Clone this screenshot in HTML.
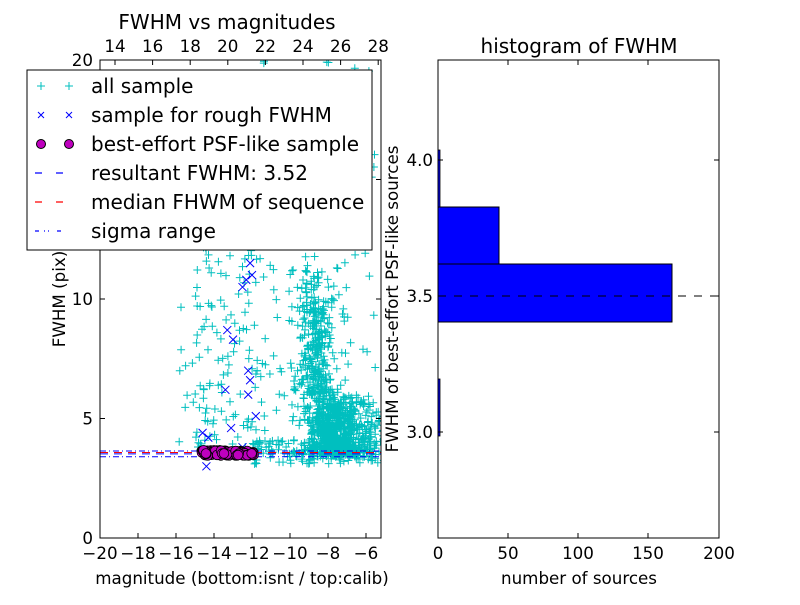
<!DOCTYPE html>
<html><head><meta charset="utf-8"><style>
body{margin:0;background:#fff;}
svg text{font-family:"DejaVu Sans","Liberation Sans",sans-serif;fill:#000;}
</style></head><body>
<svg id="s" width="800" height="600" xmlns="http://www.w3.org/2000/svg">
<rect width="800" height="600" fill="#fff"/>
<defs><clipPath id="c1"><rect x="100" y="60" width="281" height="478"/></clipPath></defs>
<g id="pts" clip-path="url(#c1)"></g>
<rect x="100" y="60" width="281" height="478" fill="none" stroke="#000" stroke-width="1"/>
<g id="lt" stroke="#000" stroke-width="1"></g>
<g font-size="16.7" text-anchor="middle" id="ltx"></g>
<text x="242" y="584" font-size="16.7" text-anchor="middle">magnitude (bottom:isnt / top:calib)</text>
<text x="227" y="29" font-size="20" text-anchor="middle">FWHM vs magnitudes</text>
<text transform="translate(65,299) rotate(-90)" font-size="16.7" text-anchor="middle">FWHM (pix)</text>
<rect x="27" y="70" width="345" height="180" fill="#fff" stroke="#000" stroke-width="1"/>
<g font-size="20">
<text x="91" y="93">all sample</text>
<text x="91" y="122">sample for rough FWHM</text>
<text x="91" y="151">best-effort PSF-like sample</text>
<text x="91" y="180">resultant FWHM: 3.52</text>
<text x="91" y="209">median FHWM of sequence</text>
<text x="91" y="238">sigma range</text>
</g>
<g stroke="#00bfbf" stroke-width="1"><path d="M37 86h8M41 82v8M65 86h8M69 82v8"/></g>
<g stroke="#0000ff" stroke-width="1"><path d="M38 112l6 6M44 112l-6 6M66 112l6 6M72 112l-6 6"/></g>
<circle cx="41" cy="144" r="4.5" fill="#bf00bf" stroke="#000"/><circle cx="69" cy="144" r="4.5" fill="#bf00bf" stroke="#000"/>
<path d="M35 173h7M56 173h7" stroke="#0000ff" stroke-width="1.2"/>
<path d="M35 202h7M56 202h7" stroke="#ff0000" stroke-width="1.2"/>
<path d="M35 231h4M44 231h1M48 231h1M57 231h4" stroke="#0000ff" stroke-width="1.2"/>
<rect x="438" y="264" width="234" height="58" fill="#0000ff" stroke="#000"/>
<rect x="438" y="207" width="61" height="57" fill="#0000ff" stroke="#000"/>
<rect x="438" y="150" width="2" height="57" fill="#0000ff" stroke="#000" stroke-width="0.8"/>
<rect x="438" y="379" width="2" height="57" fill="#0000ff" stroke="#000" stroke-width="0.8"/>
<path d="M438 296H719" stroke="#000" stroke-dasharray="8,8"/>
<rect x="438" y="60" width="281" height="478" fill="none" stroke="#000"/>
<g stroke="#000" id="rt"></g>
<g font-size="16.7">
<text x="438" y="559" text-anchor="middle">0</text>
<text x="508" y="559" text-anchor="middle">50</text>
<text x="578" y="559" text-anchor="middle">100</text>
<text x="648" y="559" text-anchor="middle">150</text>
<text x="719" y="559" text-anchor="middle">200</text>
<text x="433" y="166" text-anchor="end">4.0</text>
<text x="433" y="302" text-anchor="end">3.5</text>
<text x="433" y="438" text-anchor="end">3.0</text>
</g>
<text x="579" y="584" font-size="16.7" text-anchor="middle">number of sources</text>
<text x="579" y="53" font-size="20" text-anchor="middle">histogram of FWHM</text>
<text transform="translate(398,299) rotate(-90)" font-size="16.7" text-anchor="middle">FWHM of best-effort PSF-like sources</text>
</svg>
<script>
var NS="http://www.w3.org/2000/svg";
function el(p,t,a,txt){var e=document.createElementNS(NS,t);for(var k in a)e.setAttribute(k,a[k]);if(txt!==undefined)e.textContent=txt;p.appendChild(e);return e;}
var seed=12345;function r(){seed=(seed*1103515245+12345)%2147483648;return seed/2147483648;}
function g(){return (r()+r()+r()+r()-2)*0.87;}
var X=function(m){return 100+(m+20)*19;},Y=function(f){return 538-f*23.9;};
var P=document.getElementById('pts');
var d="";
function plus(x,y){d+="M"+(x-4).toFixed(1)+" "+y.toFixed(1)+"h8M"+x.toFixed(1)+" "+(y-4).toFixed(1)+"v8";}
for(var i=0;i<1000;i++){var f=3.4+Math.abs(g())*2.5+(r()<0.4?r()*6:0);var m=-8.6+g()*0.8+(f<6?r()*1.8:0)+(r()<0.3?g()*1.3:0);plus(X(m),Y(f));}
for(var i=0;i<120;i++){var m=-7.5+r()*2.5;var f=3.2+r()*2.5;plus(X(m),Y(f));}
for(var i=0;i<150;i++){var m=-12+r()*6.8;var f=3.1+r()*1.0;plus(X(m),Y(f));}
for(var i=0;i<150;i++){var m=-15+r()*3.5;var f=3.8+r()*11;plus(X(m),Y(f));}
for(var i=0;i<200;i++){var m=-11.5+r()*6;var f=4+r()*16;plus(X(m),Y(f));}
for(var i=0;i<20;i++){var m=-16+r()*2;var f=4+r()*6;plus(X(m),Y(f));}
el(P,'path',{d:d,stroke:'#00bfbf','stroke-width':1,fill:'none'});
var xd="";var xs=[[-14.6,4.4],[-14.4,3.0],[-14.2,3.6],[-13.4,6.2],[-13.3,8.7],[-13,8.3],[-13.1,4.6],[-12.2,6.0],[-12.1,6.6],[-12.2,7.0],[-12.1,11.5],[-12,11],[-12.3,10.8],[-12.5,10.5],[-13.5,14],[-12.8,13],[-14.3,4.2],[-12.5,3.8],[-11.8,5.1]];
xs.forEach(function(p){var x=X(p[0]),y=Y(p[1]);xd+="M"+(x-4)+" "+(y-4)+"l8 8M"+(x+4)+" "+(y-4)+"l-8 8";});
el(P,'path',{d:xd,stroke:'#0000ff','stroke-width':1,fill:'none'});
el(P,'path',{d:"M100 "+Y(3.64)+"H381",stroke:'#0000ff','stroke-dasharray':'6,3,1,3'});
el(P,'path',{d:"M100 "+Y(3.40)+"H381",stroke:'#0000ff','stroke-dasharray':'6,3,1,3'});
el(P,'path',{d:"M100 "+Y(3.58)+"H381",stroke:'#ff0000','stroke-dasharray':'8,6'});
el(P,'path',{d:"M100 "+Y(3.52)+"H381",stroke:'#0000ff','stroke-dasharray':'8,6'});
for(var i=0;i<120;i++){var m=-14.7+r()*2.8;var f=3.45+r()*0.22;el(P,'circle',{cx:X(m),cy:Y(f),r:4.8,fill:'#bf00bf',stroke:'#000','stroke-width':0.8});}
var LT=document.getElementById('lt'),LX=document.getElementById('ltx');var td="";
for(var m=-20;m<=-6;m+=2){var x=X(m);td+="M"+x+" 538v-5";el(LX,'text',{x:x,y:559},(m<0?"\u2212":"")+Math.abs(m));}
for(var c=14;c<=28;c+=2){var x=115+(c-14)*18.8;td+="M"+x+" 60v5";el(LX,'text',{x:x,y:52},c);}
for(var f=0;f<=20;f+=5){var y=Y(f);td+="M100 "+y+"h5M381 "+y+"h-5";el(LX,'text',{x:93,y:y+6,'text-anchor':'end'},f);}
el(LT,'path',{d:td});
var rd="";[438,508,578,648,719].forEach(function(x){rd+="M"+x+" 538v-5M"+x+" 60v5";});
[160,296,432].forEach(function(y){rd+="M438 "+y+"h5M719 "+y+"h-5";});
el(document.getElementById('rt'),'path',{d:rd});
</script>
</body></html>
